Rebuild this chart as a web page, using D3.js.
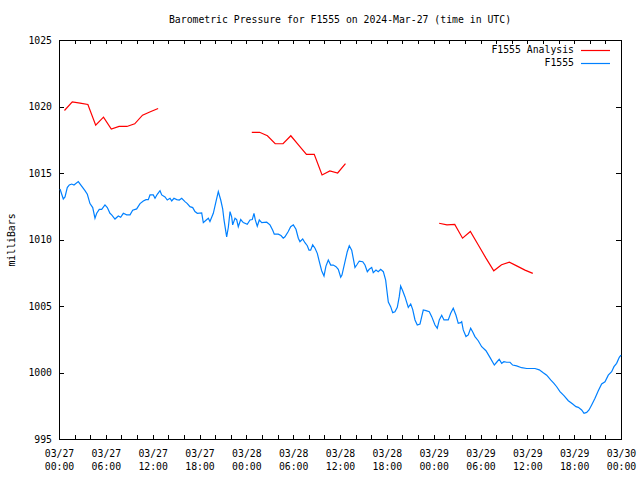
<!DOCTYPE html>
<html><head><meta charset="utf-8">
<script src="https://cdn.jsdelivr.net/npm/d3@7"></script>
<style>
body{margin:0;background:#fff}
text{font-family:"DejaVu Sans Mono","Liberation Mono",monospace;font-size:9.8px;fill:#000}
</style>
</head><body>
<svg id="c" width="640" height="480"></svg>
<script>
const titleText = "Barometric Pressure for F1555 on 2024-Mar-27 (time in UTC)";
const yLabelText = "milliBars";
const seriesNames = ["F1555 Analysis", "F1555"];
const seriesColors = ["#ff0000", "#0080ff"];
const startTime = "2024-03-27T00:00:00Z";
const yTickValues = [995, 1000, 1005, 1010, 1015, 1020, 1025];
const labelHours = [0, 6, 12, 18, 24, 30, 36, 42, 48, 54, 60, 66, 72];

// Analysis (hours since start, mBar); null = gap
const analysisHours = [0.7,1.7,2.7,3.7,4.7,5.7,6.7,7.7,8.7,9.7,10.7,11.7,12.7, 18,
  24.7,25.7,26.7,27.7,28.7,29.7,30.7,31.7,32.7,33.7,34.7,35.7,36.7, 42,
  48.7,49.7,50.7,51.7,52.7,53.7,54.7,55.7,56.7,57.7,58.7,59.7,60.7];
const analysisValues = [1019.7,1020.35,1020.25,1020.15,1018.6,1019.2,1018.3,1018.5,1018.5,1018.7,1019.35,1019.6,1019.85, null,
  1018.06,1018.06,1017.8,1017.2,1017.2,1017.8,1017.1,1016.4,1016.4,1014.85,1015.15,1015.0,1015.7, null,
  1011.22,1011.1,1011.14,1010.1,1010.6,1009.6,1008.6,1007.65,1008.1,1008.3,1008.0,1007.7,1007.45];

// Observations
const obsHours = [0.13,0.55,0.77,1.06,1.32,1.63,1.92,2.47,2.78,3.33,3.63,3.97,4.32,4.61,4.83,5.16,5.47,5.89,6.19,6.53,6.75,7.17,7.6,7.9,8.24,8.67,9.1,9.44,9.95,10.38,10.8,11.15,11.44,11.66,12.08,12.3,12.59,12.94,13.16,13.58,13.87,14.22,14.44,14.73,15.08,15.41,15.72,16.14,16.44,16.78,17.13,17.42,17.72,18.28,18.49,18.83,19.13,19.34,19.77,20.11,20.41,20.72,20.97,21.14,21.48,21.69,21.91,22.12,22.25,22.55,22.76,22.97,23.28,23.61,24.12,24.47,24.76,24.98,25.15,25.4,25.66,25.97,26.61,27.03,27.38,27.58,28.09,28.44,28.73,28.95,29.37,29.68,30.02,30.36,30.66,30.87,31.22,31.51,31.81,32.03,32.24,32.5,32.8,33.09,33.35,33.65,33.95,34.2,34.5,34.81,35.14,35.49,35.78,36.09,36.25,36.64,36.93,37.19,37.5,37.7,37.92,38.14,38.47,38.91,39.2,39.5,39.75,40.06,40.26,40.61,40.9,41.21,41.55,41.85,41.98,42.19,42.49,42.75,43.04,43.34,43.59,43.77,44.03,44.32,44.75,45.06,45.31,45.61,45.9,46.25,46.47,46.67,47.02,47.44,47.75,48.17,48.46,48.72,49.03,49.32,49.87,50.18,50.51,50.86,51.15,51.46,51.59,51.79,52.14,52.43,52.74,52.99,53.29,53.71,54.15,54.7,55.21,55.77,56.07,56.4,56.71,57.0,57.35,57.78,58.12,58.63,59.27,59.92,60.98,61.53,62.04,62.48,62.99,63.41,63.76,64.18,64.69,65.25,65.81,66.23,66.53,66.96,67.26,67.6,67.9,68.24,68.67,69.09,69.52,69.95,70.37,70.8,71.1,71.44,71.78,72.0];
const obsValues = [1013.8,1013.05,1013.2,1013.9,1014.1,1014.17,1014.1,1014.35,1014.1,1013.67,1013.4,1012.7,1012.4,1011.6,1011.97,1012.27,1012.27,1012.6,1012.4,1011.97,1011.85,1011.54,1011.77,1011.67,1011.97,1011.85,1011.85,1012.2,1012.3,1012.7,1012.9,1013.0,1013.0,1013.35,1013.35,1013.1,1013.4,1013.67,1013.35,1013.2,1012.97,1013.1,1012.9,1013.1,1013.0,1012.97,1013.1,1012.85,1012.7,1012.47,1012.4,1012.1,1011.97,1012.0,1011.27,1011.45,1011.6,1011.35,1011.97,1012.85,1013.6,1012.97,1012.3,1011.47,1010.2,1010.9,1012.1,1011.7,1011.1,1011.6,1011.5,1010.96,1011.5,1011.27,1011.14,1011.47,1011.5,1011.97,1011.47,1011.0,1011.47,1011.27,1011.3,1011.1,1010.7,1010.4,1010.4,1010.3,1010.1,1010.2,1010.6,1010.96,1011.1,1010.77,1010.1,1009.84,1010.04,1009.76,1009.53,1009.2,1009.2,1009.6,1009.34,1008.96,1008.33,1007.65,1007.26,1008.0,1008.46,1008.08,1008.08,1007.96,1007.76,1007.16,1007.33,1008.33,1009.08,1009.53,1009.2,1008.58,1007.9,1008.08,1008.38,1008.33,1008.08,1007.58,1007.76,1007.9,1007.5,1007.7,1007.58,1007.76,1007.58,1006.95,1006.3,1005.3,1004.95,1004.5,1004.57,1004.9,1005.7,1006.5,1006.15,1005.7,1004.9,1005.15,1004.75,1003.95,1003.57,1003.65,1004.2,1004.7,1004.65,1004.57,1004.2,1003.57,1003.33,1003.95,1004.3,1003.95,1003.95,1004.45,1004.83,1004.3,1003.7,1003.75,1003.82,1003.2,1002.7,1002.82,1003.33,1003.07,1002.7,1002.39,1001.94,1001.64,1001.14,1000.56,1000.77,1001.0,1000.69,1000.81,1000.77,1000.77,1000.56,1000.5,1000.36,1000.3,1000.3,1000.2,999.98,999.8,999.44,999.19,998.93,998.56,998.26,997.88,997.63,997.43,997.38,997.18,996.93,997.0,997.18,997.56,998.06,998.63,999.14,999.3,999.8,1000.06,1000.44,1000.69,1001.14,1001.3];

const W = 640, H = 480;
const M = {left: 59, right: 621, top: 40, bottom: 439};
const t0 = new Date(startTime);
const toDate = h => new Date(t0.getTime() + h * 3600e3);

const svg = d3.select("#c");
const x = d3.scaleUtc().domain([toDate(0), toDate(72)]).range([M.left, M.right]);
const y = d3.scaleLinear().domain([995, 1025]).range([M.bottom, M.top]);

// title
svg.append("text").attr("x", 340).attr("y", 23).attr("text-anchor", "middle").text(titleText);
// y label
svg.append("text").attr("transform", "translate(15,240) rotate(-90)").attr("text-anchor", "middle").text(yLabelText);

// minor ticks every 2 hours (bottom & top)
const tickHours = d3.range(0, 73, 2).map(toDate);
svg.append("g").attr("transform", `translate(0,${M.bottom})`)
  .call(d3.axisBottom(x).tickValues(tickHours).tickSize(-4).tickSizeOuter(0).tickFormat(""))
  .call(g => g.select(".domain").remove());
svg.append("g").attr("transform", `translate(0,${M.top})`)
  .call(d3.axisTop(x).tickValues(tickHours).tickSize(-4).tickSizeOuter(0).tickFormat(""))
  .call(g => g.select(".domain").remove());

// x labels
const fmtD = d3.utcFormat("%m/%d"), fmtT = d3.utcFormat("%H:%M");
const xl = svg.append("g").attr("transform", `translate(0,${M.bottom})`)
  .call(d3.axisBottom(x).tickValues(labelHours.map(toDate)).tickSize(0).tickSizeOuter(0).tickPadding(0).tickFormat(""));
xl.select(".domain").remove();
xl.selectAll(".tick").each(function(d) {
  const t = d3.select(this).append("text").attr("text-anchor", "middle").attr("fill", "#000");
  t.append("tspan").attr("x", 0).attr("y", 18).text(fmtD(d));
  t.append("tspan").attr("x", 0).attr("y", 31).text(fmtT(d));
});

// y ticks left & right
const yl = svg.append("g").attr("transform", `translate(${M.left},0)`)
  .call(d3.axisLeft(y).tickValues(yTickValues).tickSize(-5).tickSizeOuter(0).tickPadding(7).tickFormat(d3.format("d")));
yl.select(".domain").remove();
yl.selectAll("text").attr("dy", "0.35em").style("font-size", "9.8px").style("font-family", "DejaVu Sans Mono, monospace");
const yr = svg.append("g").attr("transform", `translate(${M.right},0)`)
  .call(d3.axisRight(y).tickValues(yTickValues).tickSize(-5).tickSizeOuter(0).tickFormat(""));
yr.select(".domain").remove();
svg.selectAll(".tick line").attr("stroke", "#000").attr("shape-rendering", "crispEdges");
xl.selectAll(".tick text").style("font-size", "9.8px").style("font-family", "DejaVu Sans Mono, monospace");

// frame
svg.append("rect").attr("x", M.left + 0.5).attr("y", M.top + 0.5)
  .attr("width", M.right - M.left).attr("height", M.bottom - M.top)
  .attr("fill", "none").attr("stroke", "#000").attr("shape-rendering", "crispEdges");

// lines
const line = d3.line().defined(d => d.v != null).x(d => x(toDate(d.h))).y(d => y(d.v));
const aData = analysisHours.map((h, i) => ({h, v: analysisValues[i]}));
const oData = obsHours.map((h, i) => ({h, v: obsValues[i]}));
svg.append("path").datum(aData).attr("d", line).attr("fill", "none").attr("stroke", seriesColors[0]).attr("stroke-width", 1.2);
svg.append("path").datum(oData).attr("d", line).attr("fill", "none").attr("stroke", seriesColors[1]).attr("stroke-width", 1.2);

// legend
const leg = svg.append("g");
seriesNames.forEach((n, i) => {
  const yy = 50 + i * 13;
  leg.append("text").attr("x", 574).attr("y", yy).attr("dy", "0.35em").attr("text-anchor", "end").text(n);
  leg.append("line").attr("x1", 581).attr("x2", 610).attr("y1", yy + 0.5).attr("y2", yy + 0.5)
    .attr("stroke", seriesColors[i]).attr("stroke-width", 1.2);
});
</script>
</body></html>
